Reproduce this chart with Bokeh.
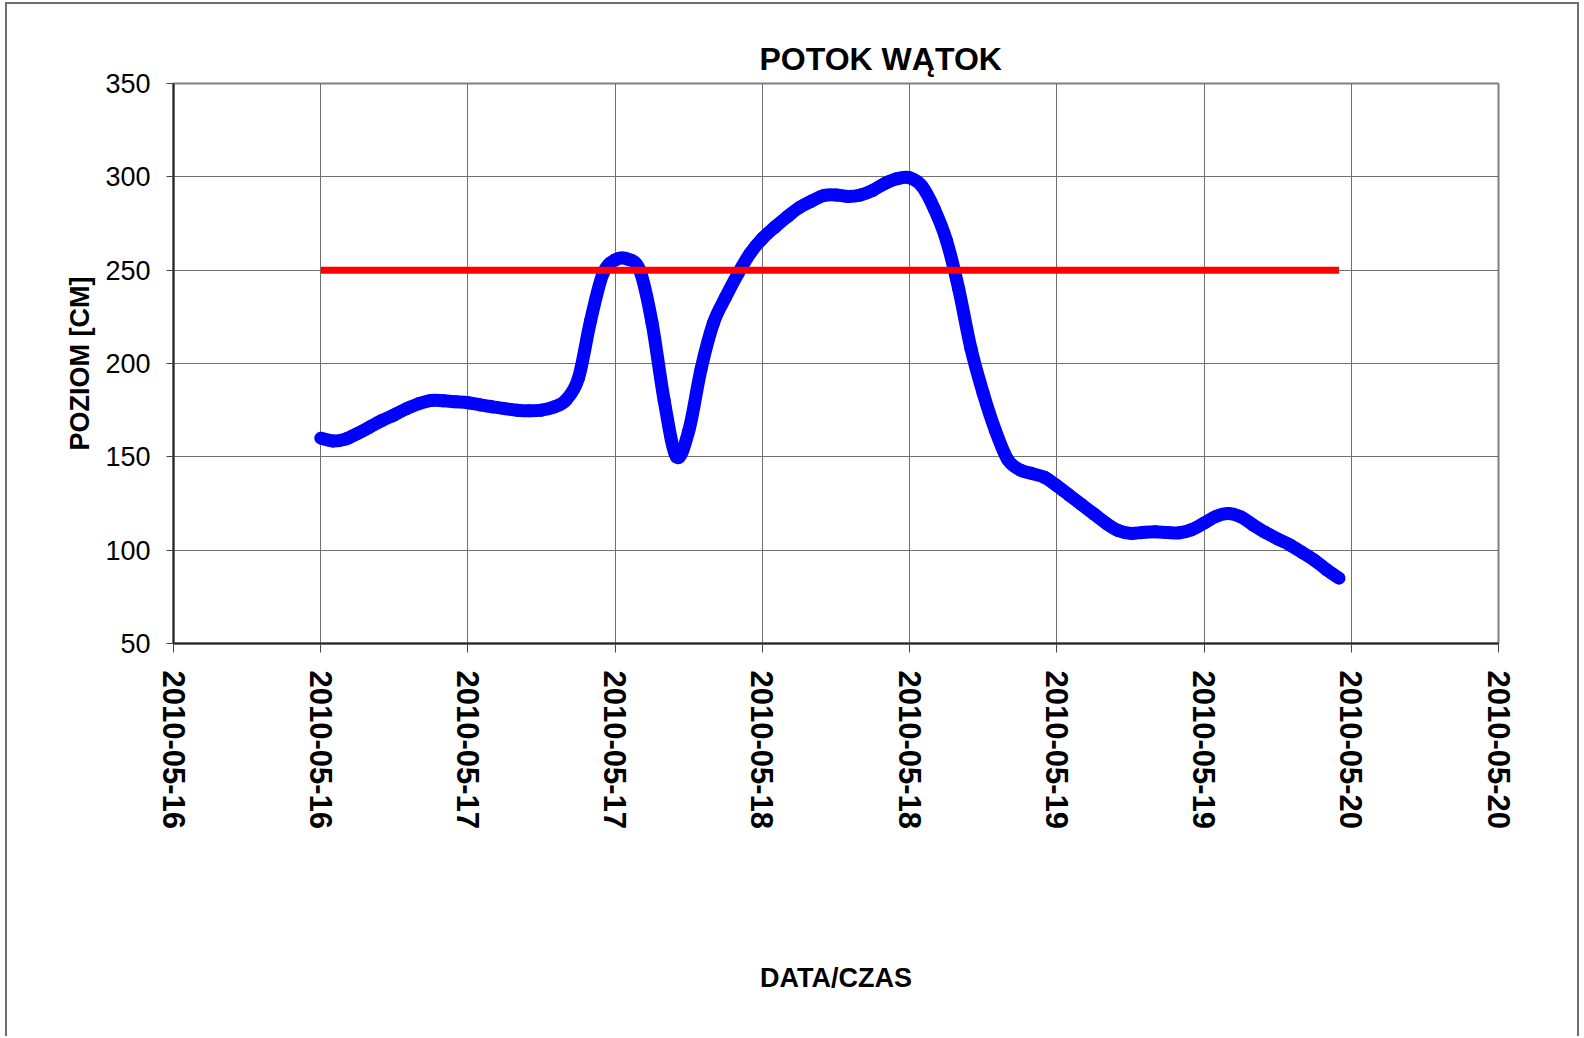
from datetime import datetime, timedelta

from bokeh.plotting import figure
from bokeh.models import FixedTicker, DatetimeTickFormatter, Range1d, ColumnDataSource
from bokeh.embed import file_html
from bokeh.resources import INLINE

# ---- data ----
title_text = "POTOK  WĄTOK"
x_label = "DATA/CZAS"
y_label = "POZIOM [CM]"

start_time = datetime(2010, 5, 16, 12, 0)   # first reading
step_hours = 1
water_level = [
    160, 158.5, 159.5, 162.5, 166, 169.5, 172.5, 175.8, 178.5, 180.2,   # 12..21
    180, 179.5, 179, 177.8, 176.8, 175.8, 175, 174.7, 175, 176.7,       # 22..31
    180.5, 192, 223, 248, 255.5, 256, 250, 222, 180, 150,               # 32..41
    164, 197, 221.5, 235.5, 248, 259, 267, 273, 278.5, 283.5,           # 42..51
    287, 290, 290.3, 289.5, 290.3, 292.8, 296.5, 299, 299.5, 295,       # 52..61
    283, 266, 240, 208, 184, 164, 148.5, 143, 141, 139,                 # 62..71
    134.5, 129.5, 124.5, 119.5, 114.5, 110.5, 109, 109.5, 109.8, 109.5, # 72..81
    109.3, 111, 114.5, 118.2, 119.6, 117.8, 113.5, 109.5, 106, 102.8,   # 82..91
    98.8, 94.6, 89.5, 85,                                               # 92..95
]
alarm_level = 250

x_start = datetime(2010, 5, 16, 0, 0)
x_end = datetime(2010, 5, 20, 12, 0)
tick_step_hours = 12
y_min, y_max, y_step = 50, 350, 50

epoch = datetime(1970, 1, 1)
def to_ms(d):
    return (d - epoch).total_seconds() * 1000.0

times = [start_time + timedelta(hours=step_hours * i) for i in range(len(water_level))]
tms = [to_ms(t) for t in times]
alarm_times = [times[0], times[-1]]
alarm_values = [alarm_level, alarm_level]

n_ticks = int((x_end - x_start).total_seconds() // 3600 // tick_step_hours) + 1
x_ticks = [to_ms(x_start + timedelta(hours=tick_step_hours * i)) for i in range(n_ticks)]
y_ticks = list(range(y_min, y_max + 1, y_step))

# smoothed-line rendering (Catmull-Rom -> cubic Bezier), like a "smoothed line" chart
n = len(tms)
seg = dict(x0=[], y0=[], x1=[], y1=[], cx0=[], cy0=[], cx1=[], cy1=[])
for i in range(n - 1):
    xa_, ya_ = tms[max(i - 1, 0)], water_level[max(i - 1, 0)]
    xb, yb = tms[i], water_level[i]
    xc, yc = tms[i + 1], water_level[i + 1]
    xd, yd = tms[min(i + 2, n - 1)], water_level[min(i + 2, n - 1)]
    seg["x0"].append(xb); seg["y0"].append(yb)
    seg["x1"].append(xc); seg["y1"].append(yc)
    seg["cx0"].append(xb + (xc - xa_) / 6.0); seg["cy0"].append(yb + (yc - ya_) / 6.0)
    seg["cx1"].append(xc - (xd - xb) / 6.0); seg["cy1"].append(yc - (yd - yb) / 6.0)

FONT = "Liberation Sans"

p = figure(
    width=1574, height=1034,
    x_axis_type="datetime",
    x_range=Range1d(x_start, x_end),
    y_range=Range1d(y_min, y_max),
    output_backend="svg",
    toolbar_location=None,
    min_border_left=166, min_border_right=83,
    min_border_top=79, min_border_bottom=395,
    background_fill_color="white",
    border_fill_color="white",
    outline_line_color="#808080",
    outline_line_width=2,
    styles={
        "margin-left": "5px", "margin-top": "2px",
        "border-left": "2px solid #6e6e6e",
        "border-top": "2px solid #6e6e6e",
        "border-right": "2px solid #6e6e6e",
    },
)

# title
p.title.text = title_text
p.title.text_font = FONT
p.title.text_font_size = "32px"
p.title.text_font_style = "bold"
p.title.text_color = "black"
p.title.align = "left"
p.title.offset = 586
p.title.standoff = 14

# series
p.bezier("x0", "y0", "x1", "y1", "cx0", "cy0", "cx1", "cy1",
         source=ColumnDataSource(seg), line_color="#0000FF", line_width=13,
         line_cap="round", line_join="round")
p.line(alarm_times, alarm_values, line_color="#FF0000", line_width=7)

# axes
xa = p.xaxis[0]
xa.ticker = FixedTicker(ticks=x_ticks)
fmt = "%Y-%m-%d"
xa.formatter = DatetimeTickFormatter(
    milliseconds=fmt, seconds=fmt, minsec=fmt, minutes=fmt, hourmin=fmt,
    hours=fmt, days=fmt, months=fmt, years=fmt)
xa.major_label_orientation = -1.5707963
xa.major_label_text_font = FONT
xa.major_label_text_font_size = "31px"
xa.major_label_text_font_style = "bold"
xa.major_label_text_color = "black"
xa.major_label_standoff = 18
xa.major_tick_out = 9
xa.major_tick_in = 0
xa.minor_tick_out = 0
xa.minor_tick_in = 0
xa.axis_line_color = "#222222"
xa.axis_line_width = 2
xa.major_tick_line_color = "#444444"
xa.axis_label = x_label
xa.axis_label_text_font = FONT
xa.axis_label_text_font_size = "27px"
xa.axis_label_text_font_style = "bold"
xa.axis_label_text_color = "black"
xa.axis_label_standoff = 131

ya = p.yaxis[0]
ya.ticker = FixedTicker(ticks=y_ticks)
ya.major_label_text_font = FONT
ya.major_label_text_font_size = "27px"
ya.major_label_text_font_style = "normal"
ya.major_label_text_color = "black"
ya.major_label_standoff = 16
ya.major_tick_out = 7
ya.major_tick_in = 0
ya.minor_tick_out = 0
ya.minor_tick_in = 0
ya.axis_line_color = "#222222"
ya.axis_line_width = 2
ya.major_tick_line_color = "#444444"
ya.axis_label = y_label
ya.axis_label_text_font = FONT
ya.axis_label_text_font_size = "27px"
ya.axis_label_text_font_style = "bold"
ya.axis_label_text_color = "black"
ya.axis_label_standoff = 7

# grid
for g in (p.xgrid[0], p.ygrid[0]):
    g.grid_line_color = "#707070"
    g.grid_line_width = 1
p.xgrid[0].ticker = FixedTicker(ticks=x_ticks)
p.ygrid[0].ticker = FixedTicker(ticks=y_ticks)

open("out.html", "w").write(file_html(p, INLINE))
